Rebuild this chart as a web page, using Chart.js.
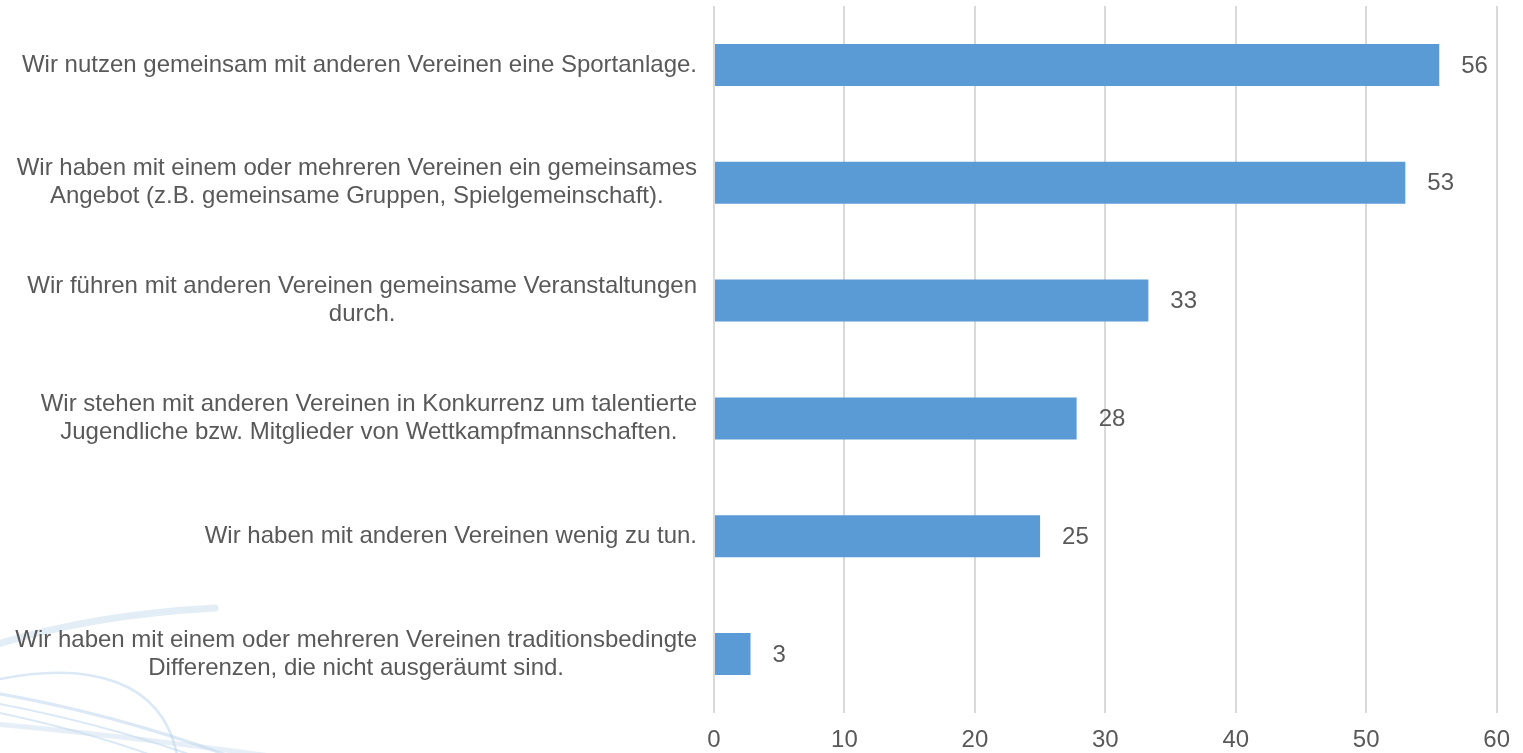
<!DOCTYPE html>
<html><head><meta charset="utf-8">
<script src="https://cdn.jsdelivr.net/npm/chart.js@4.4.0/dist/chart.umd.min.js"></script>
<style>html,body{margin:0;padding:0;background:#fff;}#wrap{width:1523px;height:753px;position:relative;}</style>
</head><body><div id="wrap"><canvas id="c"></canvas></div>
<script>
const categories = [
  "Wir nutzen gemeinsam mit anderen Vereinen eine Sportanlage.",
  ["Wir haben mit einem oder mehreren Vereinen ein gemeinsames", "Angebot (z.B. gemeinsame Gruppen, Spielgemeinschaft)."],
  ["Wir führen mit anderen Vereinen gemeinsame Veranstaltungen", "durch."],
  ["Wir stehen mit anderen Vereinen in Konkurrenz um talentierte", "Jugendliche bzw. Mitglieder von Wettkampfmannschaften."],
  "Wir haben mit anderen Vereinen wenig zu tun.",
  ["Wir haben mit einem oder mehreren Vereinen traditionsbedingte", "Differenzen, die nicht ausgeräumt sind."]
];
const values = [55.6, 53.0, 33.3, 27.8, 25.0, 2.8];
const valueLabels = ["56", "53", "33", "28", "25", "3"];
const xTicks = [0, 10, 20, 30, 40, 50, 60];

const FONT = '"Liberation Sans", Arial, sans-serif';
const TEXT = '#595959';

const swooshPlugin = {
  id: 'swoosh',
  beforeDraw(chart) {
    const ctx = chart.ctx;
    ctx.save();
    ctx.fillStyle = '#fff';
    ctx.fillRect(0, 0, chart.width, chart.height);
    ctx.lineCap = 'round';
    ctx.strokeStyle = 'rgba(200,220,238,0.5)';
    ctx.lineWidth = 7;
    ctx.beginPath(); ctx.moveTo(-5, 645); ctx.quadraticCurveTo(90, 615, 215, 608); ctx.stroke();
    ctx.strokeStyle = 'rgba(175,205,232,0.45)';
    ctx.lineWidth = 2.5;
    ctx.beginPath(); ctx.moveTo(-5, 680); ctx.bezierCurveTo(90, 660, 165, 680, 178, 760); ctx.stroke();
    ctx.lineWidth = 3;
    ctx.beginPath(); ctx.moveTo(-5, 693); ctx.quadraticCurveTo(120, 715, 240, 760); ctx.stroke();
    ctx.lineWidth = 2;
    ctx.beginPath(); ctx.moveTo(-5, 703); ctx.quadraticCurveTo(110, 725, 205, 760); ctx.stroke();
    ctx.beginPath(); ctx.moveTo(-5, 712); ctx.quadraticCurveTo(90, 732, 165, 760); ctx.stroke();
    ctx.strokeStyle = 'rgba(200,220,238,0.45)';
    ctx.lineWidth = 5;
    ctx.beginPath(); ctx.moveTo(-5, 724); ctx.quadraticCurveTo(120, 735, 300, 760); ctx.stroke();
    ctx.restore();
  }
};

const catLabelPlugin = {
  id: 'catLabels',
  afterDraw(chart) {
    const ctx = chart.ctx, ys = chart.scales.y;
    const LH = 28;
    ctx.save();
    ctx.font = '24px ' + FONT;
    ctx.fillStyle = TEXT;
    ctx.textAlign = 'center';
    ctx.textBaseline = 'middle';
    const right = chart.chartArea.left - 17;
    chart.data.labels.forEach((lab, i) => {
      const lines = Array.isArray(lab) ? lab : [lab];
      const w = Math.max(...lines.map(l => ctx.measureText(l).width));
      const cx = right - w / 2;
      const y0 = ys.getPixelForValue(i) - (lines.length - 1) * LH / 2;
      lines.forEach((l, j) => ctx.fillText(l, cx, y0 + j * LH));
    });
    ctx.restore();
  }
};

const valueLabelPlugin = {
  id: 'valLabels',
  afterDatasetsDraw(chart) {
    const ctx = chart.ctx;
    const meta = chart.getDatasetMeta(0);
    ctx.save();
    ctx.font = '24px ' + FONT;
    ctx.fillStyle = TEXT;
    ctx.textAlign = 'left';
    ctx.textBaseline = 'middle';
    meta.data.forEach((bar, i) => {
      ctx.fillText(valueLabels[i], bar.x + 22, bar.y + 1);
    });
    ctx.restore();
  }
};

new Chart(document.getElementById('c'), {
  type: 'bar',
  data: {
    labels: categories,
    datasets: [{
      data: values,
      backgroundColor: '#5B9BD5',
      borderWidth: 0,
      barPercentage: 1,
      categoryPercentage: 0.357
    }]
  },
  options: {
    indexAxis: 'y',
    responsive: true,
    maintainAspectRatio: false,
    animation: false,
    layout: { padding: { top: 6, right: 19, left: 0, bottom: 0 } },
    plugins: { legend: { display: false }, tooltip: { enabled: false } },
    scales: {
      x: {
        min: xTicks[0], max: xTicks[xTicks.length - 1],
        afterBuildTicks: s => { s.ticks = xTicks.map(v => ({ value: v })); },
        afterFit: s => { s.height = 40; },
        ticks: { font: { size: 24, family: FONT }, color: TEXT, padding: 13 },
        grid: { color: '#d9d9d9', lineWidth: 2, drawTicks: false },
        border: { display: false }
      },
      y: {
        afterFit: s => { s.width = 714; },
        ticks: { display: false },
        grid: { display: false },
        border: { display: false }
      }
    }
  },
  plugins: [swooshPlugin, catLabelPlugin, valueLabelPlugin]
});
</script>
</body></html>
